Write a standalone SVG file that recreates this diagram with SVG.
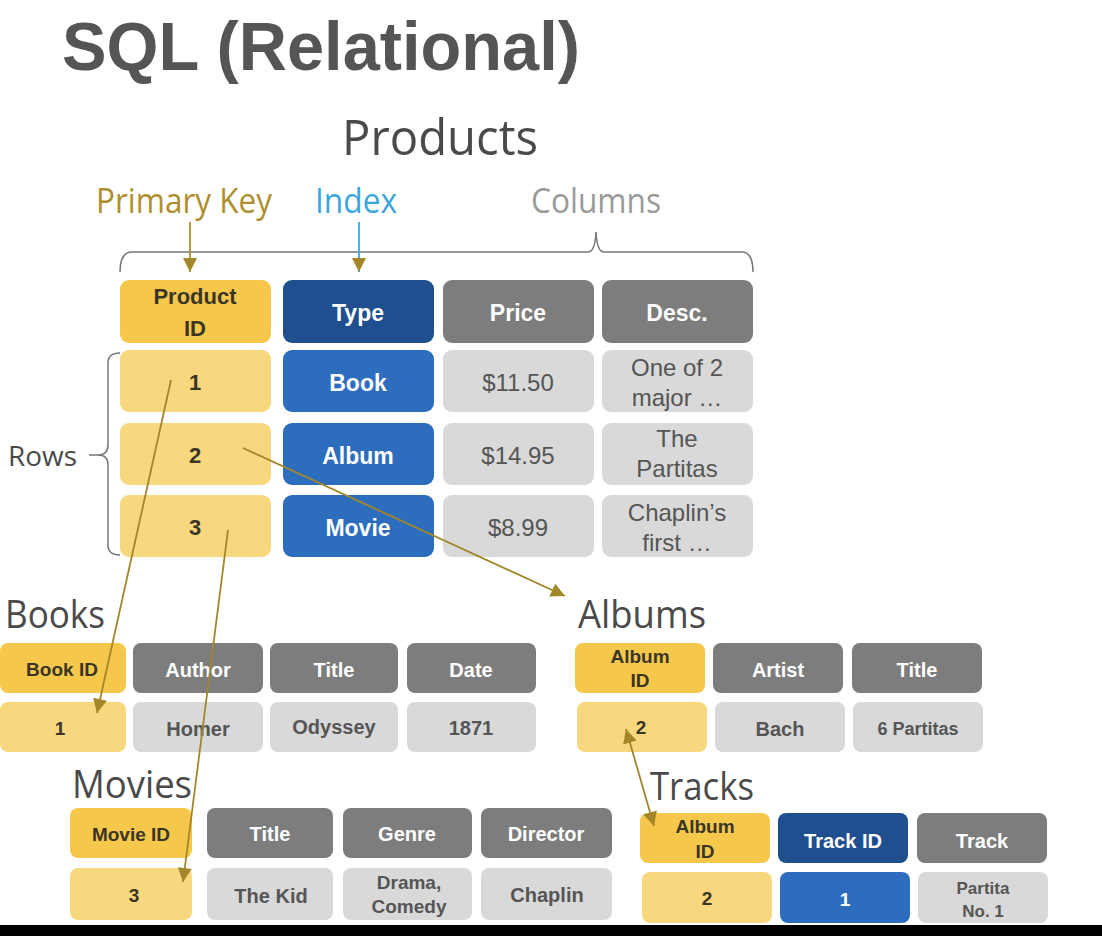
<svg xmlns="http://www.w3.org/2000/svg" width="1102" height="936" viewBox="0 0 1102 936">
<defs>
<style>
.yh{fill:#f5c84c}
.yd{fill:#f8d87e}
.bh{fill:#1f4f8f}
.bd{fill:#2d6dbd}
.gh{fill:#7d7d7d}
.gd{fill:#d9d9d9}
text{font-family:"Liberation Sans",Arial,sans-serif;text-anchor:middle}
.hd{font-family:"Open Sans","Liberation Sans",sans-serif;text-anchor:start;fill:#4a4a4a}
.b{font-weight:bold}
.dk{fill:#3b3526}
.wh{fill:#ffffff}
.gt{fill:#555555}
.conn{stroke:#a3862a;stroke-width:1.8;fill:none}
</style>
<marker id="ah" viewBox="0 0 10 10" refX="10" refY="5" markerWidth="16" markerHeight="14" markerUnits="userSpaceOnUse" orient="auto-start-reverse">
<path d="M0,0 L10,5 L0,10 z" fill="#a3862a"/>
</marker>
</defs>
<rect width="1102" height="936" fill="#ffffff"/>
<text x="62" y="70" class="b" style="text-anchor:start;fill:#555555;font-size:68px" textLength="518" lengthAdjust="spacingAndGlyphs">SQL (Relational)</text>
<text x="342" y="155" class="hd" style="font-size:50px" textLength="196" lengthAdjust="spacingAndGlyphs">Products</text>
<text x="96" y="213" class="hd" style="font-size:34px;fill:#ae8f2e" textLength="176" lengthAdjust="spacingAndGlyphs">Primary Key</text>
<text x="315" y="213" class="hd" style="font-size:34px;fill:#3ba6dc" textLength="82" lengthAdjust="spacingAndGlyphs">Index</text>
<text x="531" y="213" class="hd" style="font-size:34px;fill:#9a9a9a" textLength="130" lengthAdjust="spacingAndGlyphs">Columns</text>
<text x="8" y="466" class="hd" style="font-size:28px" textLength="69" lengthAdjust="spacingAndGlyphs">Rows</text>
<path d="M120,272 Q120,252 132,252 L588,252 Q595,252 596,232 Q597,252 604,252 L742,252 Q753,252 753,272" fill="none" stroke="#777" stroke-width="1.5"/>
<path d="M120,353 Q108,353 108,363 L108,445 Q108,455 98,455 Q108,455 108,465 L108,545 Q108,555 120,555" fill="none" stroke="#777" stroke-width="1.5"/>
<line x1="89" y1="455" x2="99" y2="455" stroke="#777" stroke-width="1.5"/>
<g id="arrows-top">
<line x1="190" y1="222" x2="190" y2="272" stroke="#ae8f2e" stroke-width="1.8" marker-end="url(#ah)"/>
<line x1="359" y1="222" x2="359" y2="272" stroke="#3ba6dc" stroke-width="1.8" marker-end="url(#ah)"/>
</g>
<g id="products">
<rect class="yh" x="120" y="280" width="151" height="63" rx="9"/>
<rect class="bh" x="283" y="280" width="151" height="63" rx="9"/>
<rect class="gh" x="443" y="280" width="151" height="63" rx="9"/>
<rect class="gh" x="602" y="280" width="151" height="63" rx="9"/>
<text x="195" y="304" class="b dk" style="font-size:22px">Product</text>
<text x="195" y="336" class="b dk" style="font-size:22px">ID</text>
<text x="358" y="321" class="b wh" style="font-size:23px">Type</text>
<text x="518" y="321" class="b wh" style="font-size:23px">Price</text>
<text x="677" y="321" class="b wh" style="font-size:23px">Desc.</text>
<rect class="yd" x="120" y="350" width="151" height="62" rx="9"/>
<rect class="bd" x="283" y="350" width="151" height="62" rx="9"/>
<rect class="gd" x="443" y="350" width="151" height="62" rx="9"/>
<rect class="gd" x="602" y="350" width="151" height="62" rx="9"/>
<text x="195" y="390" class="b dk" style="font-size:22px">1</text>
<text x="358" y="391" class="b wh" style="font-size:23px">Book</text>
<text x="518" y="391" class="gt" style="font-size:24px">$11.50</text>
<text x="677" y="376" class="gt" style="font-size:24px">One of 2</text>
<text x="677" y="406" class="gt" style="font-size:24px">major …</text>
<rect class="yd" x="120" y="423" width="151" height="62" rx="9"/>
<rect class="bd" x="283" y="423" width="151" height="62" rx="9"/>
<rect class="gd" x="443" y="423" width="151" height="62" rx="9"/>
<rect class="gd" x="602" y="423" width="151" height="62" rx="9"/>
<text x="195" y="463" class="b dk" style="font-size:22px">2</text>
<text x="358" y="464" class="b wh" style="font-size:23px">Album</text>
<text x="518" y="464" class="gt" style="font-size:24px">$14.95</text>
<text x="677" y="447" class="gt" style="font-size:24px">The</text>
<text x="677" y="477" class="gt" style="font-size:24px">Partitas</text>
<rect class="yd" x="120" y="495" width="151" height="62" rx="9"/>
<rect class="bd" x="283" y="495" width="151" height="62" rx="9"/>
<rect class="gd" x="443" y="495" width="151" height="62" rx="9"/>
<rect class="gd" x="602" y="495" width="151" height="62" rx="9"/>
<text x="195" y="535" class="b dk" style="font-size:22px">3</text>
<text x="358" y="536" class="b wh" style="font-size:23px">Movie</text>
<text x="518" y="536" class="gt" style="font-size:24px">$8.99</text>
<text x="677" y="521" class="gt" style="font-size:24px">Chaplin’s</text>
<text x="677" y="551" class="gt" style="font-size:24px">first …</text>
</g>
<g id="books">
<text x="5" y="628" class="hd" style="font-size:38px" textLength="100" lengthAdjust="spacingAndGlyphs">Books</text>
<rect class="yh" x="0" y="643" width="126" height="50" rx="8"/>
<rect class="gh" x="133" y="643" width="130" height="50" rx="8"/>
<rect class="gh" x="270" y="643" width="128" height="50" rx="8"/>
<rect class="gh" x="407" y="643" width="129" height="50" rx="8"/>
<text x="62" y="676" class="b dk" style="font-size:19px">Book ID</text>
<text x="198" y="677" class="b wh" style="font-size:20px">Author</text>
<text x="334" y="677" class="b wh" style="font-size:20px">Title</text>
<text x="471" y="677" class="b wh" style="font-size:20px">Date</text>
<rect class="yd" x="0" y="702" width="126" height="50" rx="8"/>
<rect class="gd" x="133" y="702" width="130" height="50" rx="8"/>
<rect class="gd" x="270" y="702" width="128" height="50" rx="8"/>
<rect class="gd" x="407" y="702" width="129" height="50" rx="8"/>
<text x="60" y="735" class="b dk" style="font-size:19px">1</text>
<text x="198" y="736" class="b gt" style="font-size:20px">Homer</text>
<text x="334" y="734" class="b gt" style="font-size:20px">Odyssey</text>
<text x="471" y="735" class="b gt" style="font-size:20px">1871</text>
</g>
<g id="albums">
<text x="578" y="628" class="hd" style="font-size:38px" textLength="128" lengthAdjust="spacingAndGlyphs">Albums</text>
<rect class="yh" x="575" y="643" width="130" height="50" rx="8"/>
<rect class="gh" x="713" y="643" width="130" height="50" rx="8"/>
<rect class="gh" x="852" y="643" width="130" height="50" rx="8"/>
<text x="640" y="663" class="b dk" style="font-size:19px">Album</text>
<text x="640" y="687" class="b dk" style="font-size:19px">ID</text>
<text x="778" y="677" class="b wh" style="font-size:20px">Artist</text>
<text x="917" y="677" class="b wh" style="font-size:20px">Title</text>
<rect class="yd" x="577" y="702" width="130" height="50" rx="8"/>
<rect class="gd" x="715" y="702" width="130" height="50" rx="8"/>
<rect class="gd" x="853" y="702" width="130" height="50" rx="8"/>
<text x="641" y="734" class="b dk" style="font-size:19px">2</text>
<text x="780" y="736" class="b gt" style="font-size:20px">Bach</text>
<text x="918" y="735" class="b gt" style="font-size:18px">6 Partitas</text>
</g>
<g id="movies">
<text x="72" y="798" class="hd" style="font-size:38px" textLength="120" lengthAdjust="spacingAndGlyphs">Movies</text>
<rect class="yh" x="70" y="808" width="122" height="50" rx="8"/>
<rect class="gh" x="207" y="808" width="126" height="50" rx="8"/>
<rect class="gh" x="343" y="808" width="129" height="50" rx="8"/>
<rect class="gh" x="481" y="808" width="131" height="50" rx="8"/>
<text x="131" y="841" class="b dk" style="font-size:19px">Movie ID</text>
<text x="270" y="841" class="b wh" style="font-size:20px">Title</text>
<text x="407" y="841" class="b wh" style="font-size:20px">Genre</text>
<text x="546" y="841" class="b wh" style="font-size:20px">Director</text>
<rect class="yd" x="70" y="868" width="122" height="52" rx="8"/>
<rect class="gd" x="207" y="868" width="126" height="52" rx="8"/>
<rect class="gd" x="343" y="868" width="129" height="52" rx="8"/>
<rect class="gd" x="481" y="868" width="131" height="52" rx="8"/>
<text x="134" y="902" class="b dk" style="font-size:19px">3</text>
<text x="271" y="903" class="b gt" style="font-size:20px">The Kid</text>
<text x="409" y="889" class="b gt" style="font-size:19px">Drama,</text>
<text x="409" y="913" class="b gt" style="font-size:19px">Comedy</text>
<text x="547" y="902" class="b gt" style="font-size:20px">Chaplin</text>
</g>
<g id="tracks">
<text x="650" y="800" class="hd" style="font-size:38px" textLength="104" lengthAdjust="spacingAndGlyphs">Tracks</text>
<rect class="yh" x="640" y="813" width="130" height="50" rx="8"/>
<rect class="bh" x="778" y="813" width="130" height="50" rx="8"/>
<rect class="gh" x="917" y="813" width="130" height="50" rx="8"/>
<text x="705" y="833" class="b dk" style="font-size:19px">Album</text>
<text x="705" y="858" class="b dk" style="font-size:19px">ID</text>
<text x="843" y="848" class="b wh" style="font-size:20px">Track ID</text>
<text x="982" y="848" class="b wh" style="font-size:20px">Track</text>
<rect class="yd" x="642" y="872" width="130" height="51" rx="8"/>
<rect class="bd" x="780" y="872" width="130" height="51" rx="8"/>
<rect class="gd" x="918" y="872" width="130" height="51" rx="8"/>
<text x="707" y="905" class="b dk" style="font-size:19px">2</text>
<text x="845" y="906" class="b wh" style="font-size:19px">1</text>
<text x="983" y="894" class="b gt" style="font-size:17px">Partita</text>
<text x="983" y="917" class="b gt" style="font-size:17px">No. 1</text>
</g>
<g id="connectors">
<line class="conn" x1="171" y1="380" x2="97" y2="713" marker-end="url(#ah)"/>
<line class="conn" x1="243" y1="448" x2="565" y2="596" marker-end="url(#ah)"/>
<line class="conn" x1="228" y1="530" x2="183" y2="882" marker-end="url(#ah)"/>
<line class="conn" x1="626" y1="729" x2="654" y2="826" marker-start="url(#ah)" marker-end="url(#ah)"/>
</g>
<rect x="0" y="925" width="1102" height="11" fill="#000000"/>
</svg>
